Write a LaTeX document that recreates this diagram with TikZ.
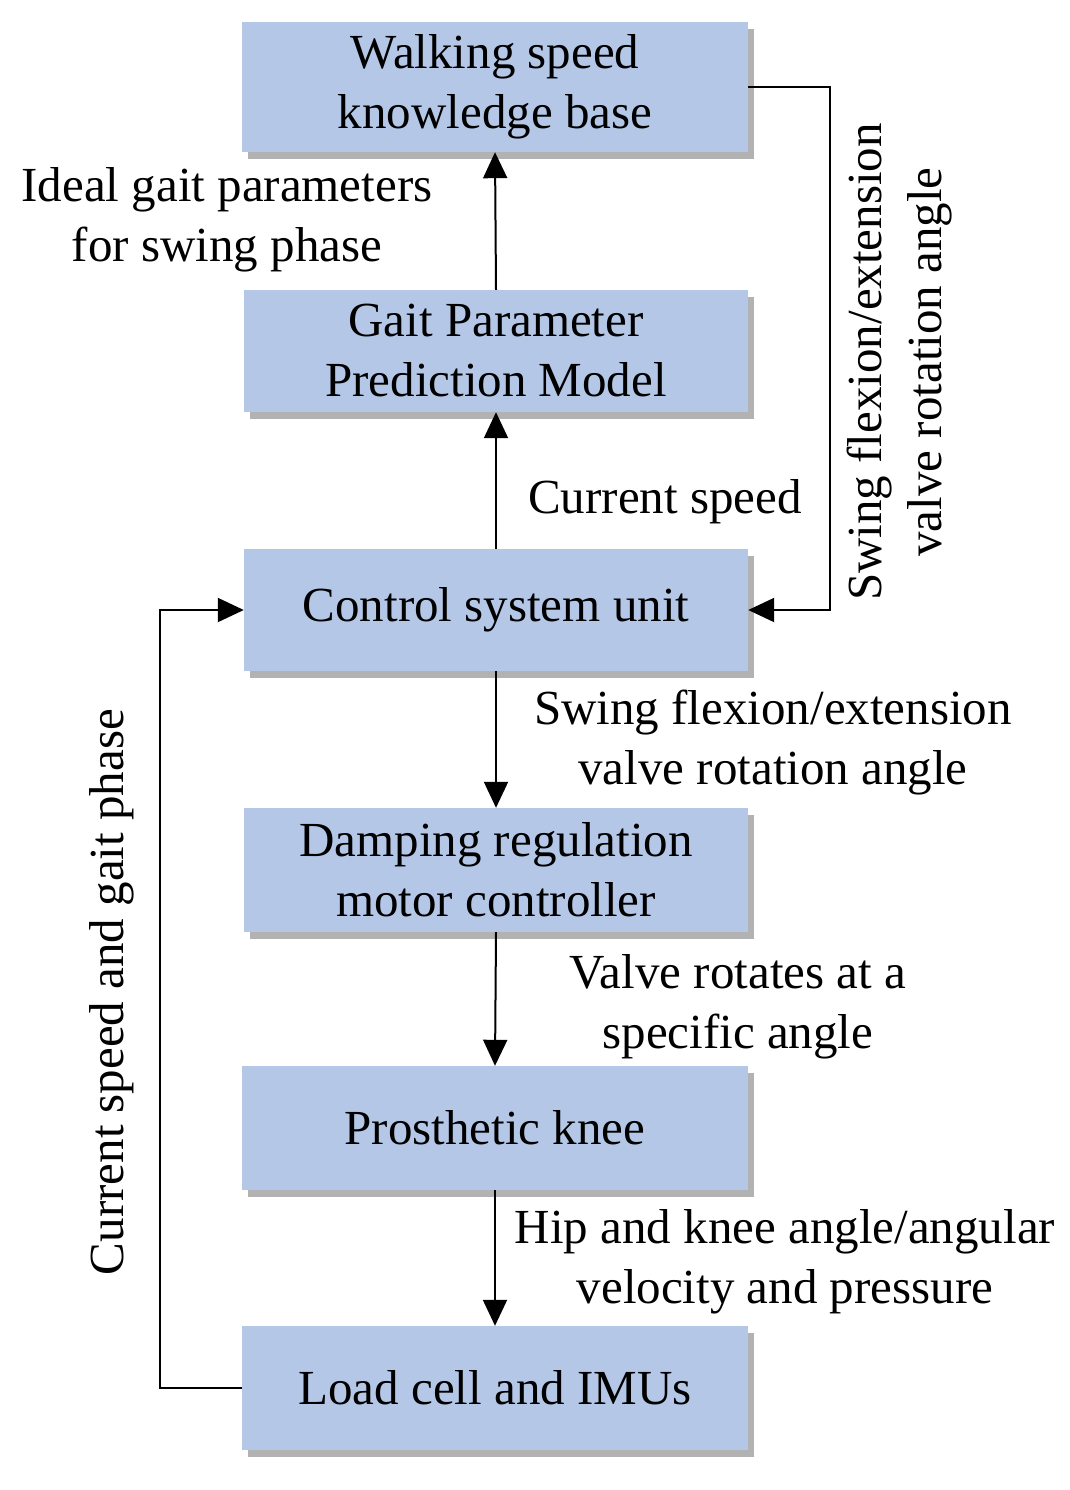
\documentclass[tikz,border=0pt]{standalone}
\usepackage{fontspec}
\setmainfont{Liberation Serif}
\usetikzlibrary{shadows,arrows.meta,positioning}
\definecolor{boxblue}{HTML}{B4C7E7}
\tikzset{
  blk/.style={rectangle, fill=boxblue, draw=none, align=center,
    font=\fontsize{49}{60}\selectfont, inner sep=0pt,
    drop shadow={shadow xshift=6pt, shadow yshift=-7pt, fill=black, opacity=0.3}},
  lbl/.style={align=center, font=\fontsize{49}{60}\selectfont, inner sep=0pt},
  conn/.style={line width=2pt, draw=black},
  arr/.style={conn, -{Triangle[length=26pt,width=24pt]}}
}
\begin{document}
\begin{tikzpicture}[x=1pt,y=-1pt]
\useasboundingbox (0,0) rectangle (1070,1490);
\node[blk, minimum width=506pt, minimum height=130pt] (b1) at (495,87) {Walking speed\\knowledge base};
\node[blk, minimum width=504pt, minimum height=122pt] (b2) at (496,351) {Gait Parameter\\Prediction Model};
\node[blk, minimum width=504pt, minimum height=122pt] (b3) at (496,610) {Control system unit};
\node[blk, minimum width=504pt, minimum height=124pt] (b4) at (496,870) {Damping regulation\\motor controller};
\node[blk, minimum width=506pt, minimum height=124pt] (b5) at (495,1128) {Prosthetic knee};
\node[blk, minimum width=506pt, minimum height=124pt] (b6) at (495,1388) {Load cell and IMUs};

\draw[arr] (b3.north) -- (b2.south);
\draw[arr] (b2.north) -- (b1.south);
\draw[arr] (b3.south) -- (b4.north);
\draw[arr] (b4.south) -- (b5.north);
\draw[arr] (b5.south) -- (b6.north);

\coordinate (rc) at (830,87);
\draw[arr] (b1.east) -- (rc) |- (b3.east);
\coordinate (lc) at (160,1388);
\draw[arr] (b6.west) -- (lc) |- (b3.west);

\node[lbl] (l1) at (227,220) {Ideal gait parameters\\for swing phase};
\node[lbl] (l2) at (665,502) {Current speed};
\node[lbl] (l3) at (773,743) {Swing flexion/extension\\valve rotation angle};
\node[lbl] (l4) at (738,1007) {Valve rotates at a\\specific angle};
\node[lbl] (l5) at (785,1262) {Hip and knee angle/angular\\velocity and pressure};
\node[lbl, rotate=90] (l6) at (900,362) {Swing flexion/extension\\valve rotation angle};
\node[lbl, rotate=90] (l7) at (112,992) {Current speed and gait phase};
\end{tikzpicture}
\end{document}
